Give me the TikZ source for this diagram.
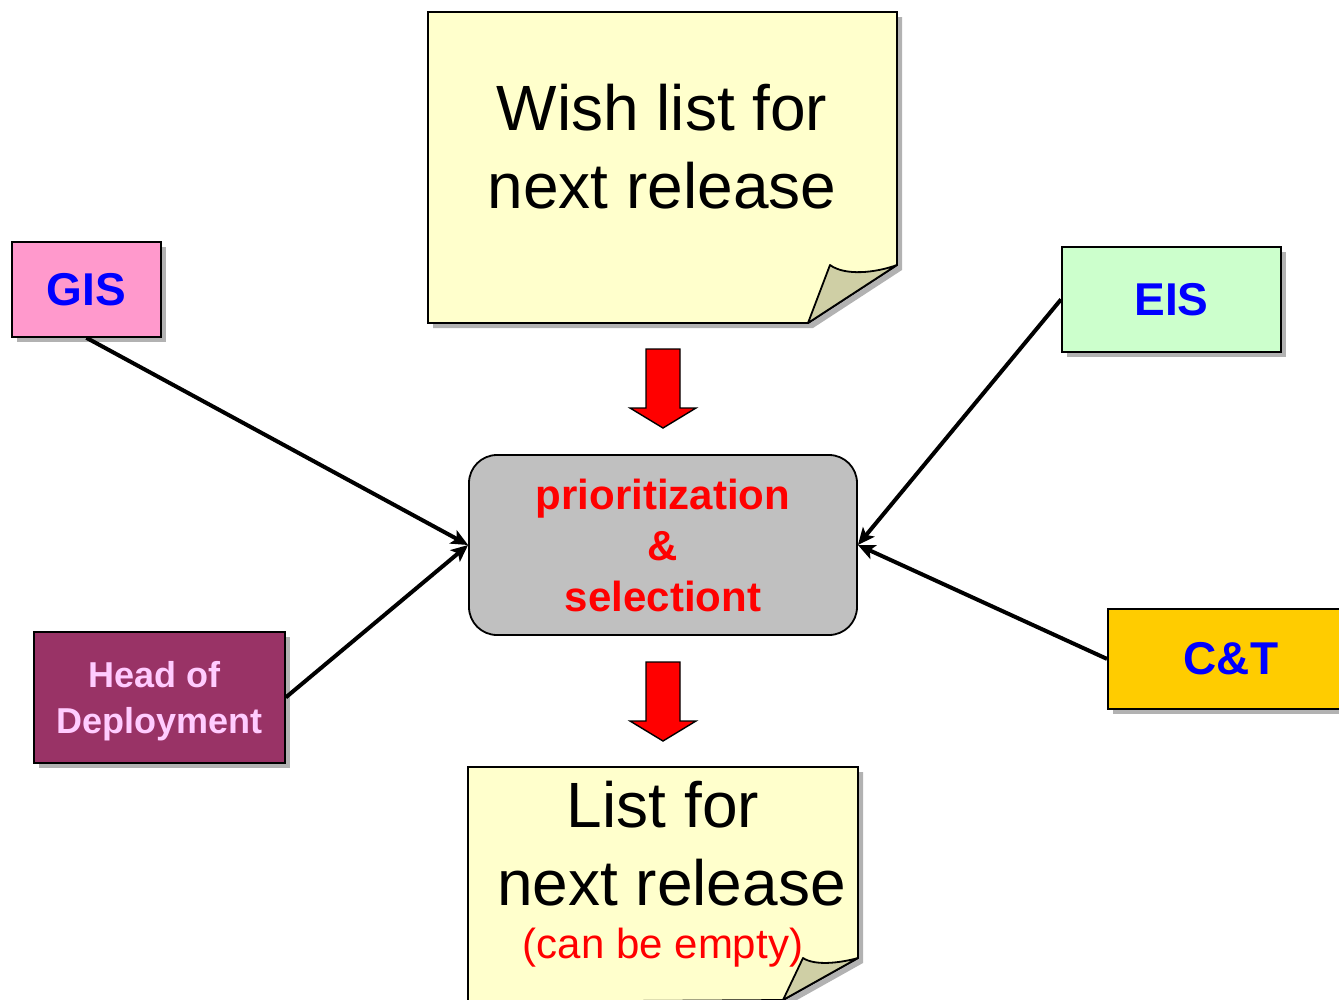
\documentclass[tikz,border=0pt]{standalone}
\usepackage{fontspec}
\setmainfont{Liberation Sans}
\usetikzlibrary{shadows,arrows.meta}
\definecolor{notefill}{HTML}{FFFFCC}
\definecolor{flapfill}{HTML}{CFCFA5}
\definecolor{shadowgray}{HTML}{B2B2B2}
\definecolor{gisfill}{HTML}{FF99CC}
\definecolor{eisfill}{HTML}{CCFFCC}
\definecolor{ctfill}{HTML}{FFCC00}
\definecolor{hodfill}{HTML}{993366}
\definecolor{hodtext}{HTML}{FFCCFF}
\definecolor{boxgray}{HTML}{C0C0C0}
\definecolor{textblue}{HTML}{0000FF}
\definecolor{arrowred}{HTML}{FF0000}
\begin{document}
\begin{tikzpicture}[x=1pt,y=-1pt,
  srcbox/.style={draw=black, line width=1.8pt, inner sep=0pt, anchor=north west,
    drop shadow={shadow xshift=5pt, shadow yshift=-5pt, fill=shadowgray, opacity=1, draw=none},
    font=\bfseries\fontsize{46}{50}\selectfont, text=textblue},
  notetext/.style={align=center, inner sep=0pt, font=\fontsize{64}{78}\selectfont},
  note/.style={fill=notefill, draw=black, line width=1.8pt, line join=miter},
  flap/.style={fill=flapfill, draw=black, line width=1.8pt, line join=round},
  bigarrow/.style={fill=arrowred, draw=black, line width=1.4pt},
  conn/.style={draw=black, line width=4pt, -{Stealth[length=17pt,width=15pt,inset=4pt]}}
]
\useasboundingbox (0,0) rectangle (1339,999);
\clip (0,0) rectangle (1339,999);

% Wish list note
\fill[shadowgray] (433,17) -- (902,17) -- (902,270) -- (813,328) -- (433,328) -- cycle;
\path[note] (428,12) -- (897,12) -- (897,265) -- (808,323) -- (428,323) -- cycle;
\path[flap] (808,323) -- (830,265) .. controls (845,276) and (875,273) .. (897,265) -- cycle;
\node[notetext] (wish) at (662,147) {Wish list for\\next release};

% red arrows
\path[bigarrow] (646,349) -- (680,349) -- (680,408) -- (696,408) -- (663,428) -- (630,408) -- (646,408) -- cycle;
\path[bigarrow] (646,662) -- (680,662) -- (680,721) -- (696,721) -- (663,741) -- (630,721) -- (646,721) -- cycle;

% center box
\node[draw=black, line width=1.8pt, fill=boxgray, rounded corners=28pt, inner sep=0pt,
      minimum width=388pt, minimum height=180pt, align=center, text=red,
      font=\bfseries\fontsize{42}{51}\selectfont] (center) at (663,545)
      {prioritization\\\&\\selectiont};

% bottom note
\fill[shadowgray] (473,772) -- (863,772) -- (863,963) -- (788,1005) -- (473,1005) -- cycle;
\path[note] (468,767) -- (858,767) -- (858,958) -- (783,1000) -- (468,1002) -- cycle;
\path[flap] (783,1000) -- (803,958) .. controls (815,966) and (840,963) .. (858,958) -- cycle;
\node[notetext] (list) at (663,844) {List for\\\hspace*{17pt}next release};
\node[anchor=base, inner sep=0pt, text=red, font=\fontsize{42}{50}\selectfont] (empty) at (663,958) {(can be empty)};

% source boxes
\node[srcbox, fill=gisfill, minimum width=149pt, minimum height=95pt] (gis) at (11,241) {GIS};
\node[srcbox, fill=eisfill, minimum width=219pt, minimum height=105pt] (eis) at (1061,246) {EIS};
\node[srcbox, fill=ctfill, minimum width=246pt, minimum height=100pt] (ct) at (1107,608) {C\&T};
\node[srcbox, fill=hodfill, minimum width=251pt, minimum height=131pt, align=center,
      text=hodtext, font=\bfseries\fontsize{36}{46}\selectfont] (hod) at (33,631)
      {\rule{0pt}{34pt}Head of\hspace*{9pt}\\Deployment};

% connectors
\draw[conn] (gis.south) -- (center.west);
\draw[conn] (hod.east) -- (center.west);
\draw[conn] (eis.west) -- (center.east);
\draw[conn] (ct.west) -- (center.east);
\end{tikzpicture}
\end{document}
